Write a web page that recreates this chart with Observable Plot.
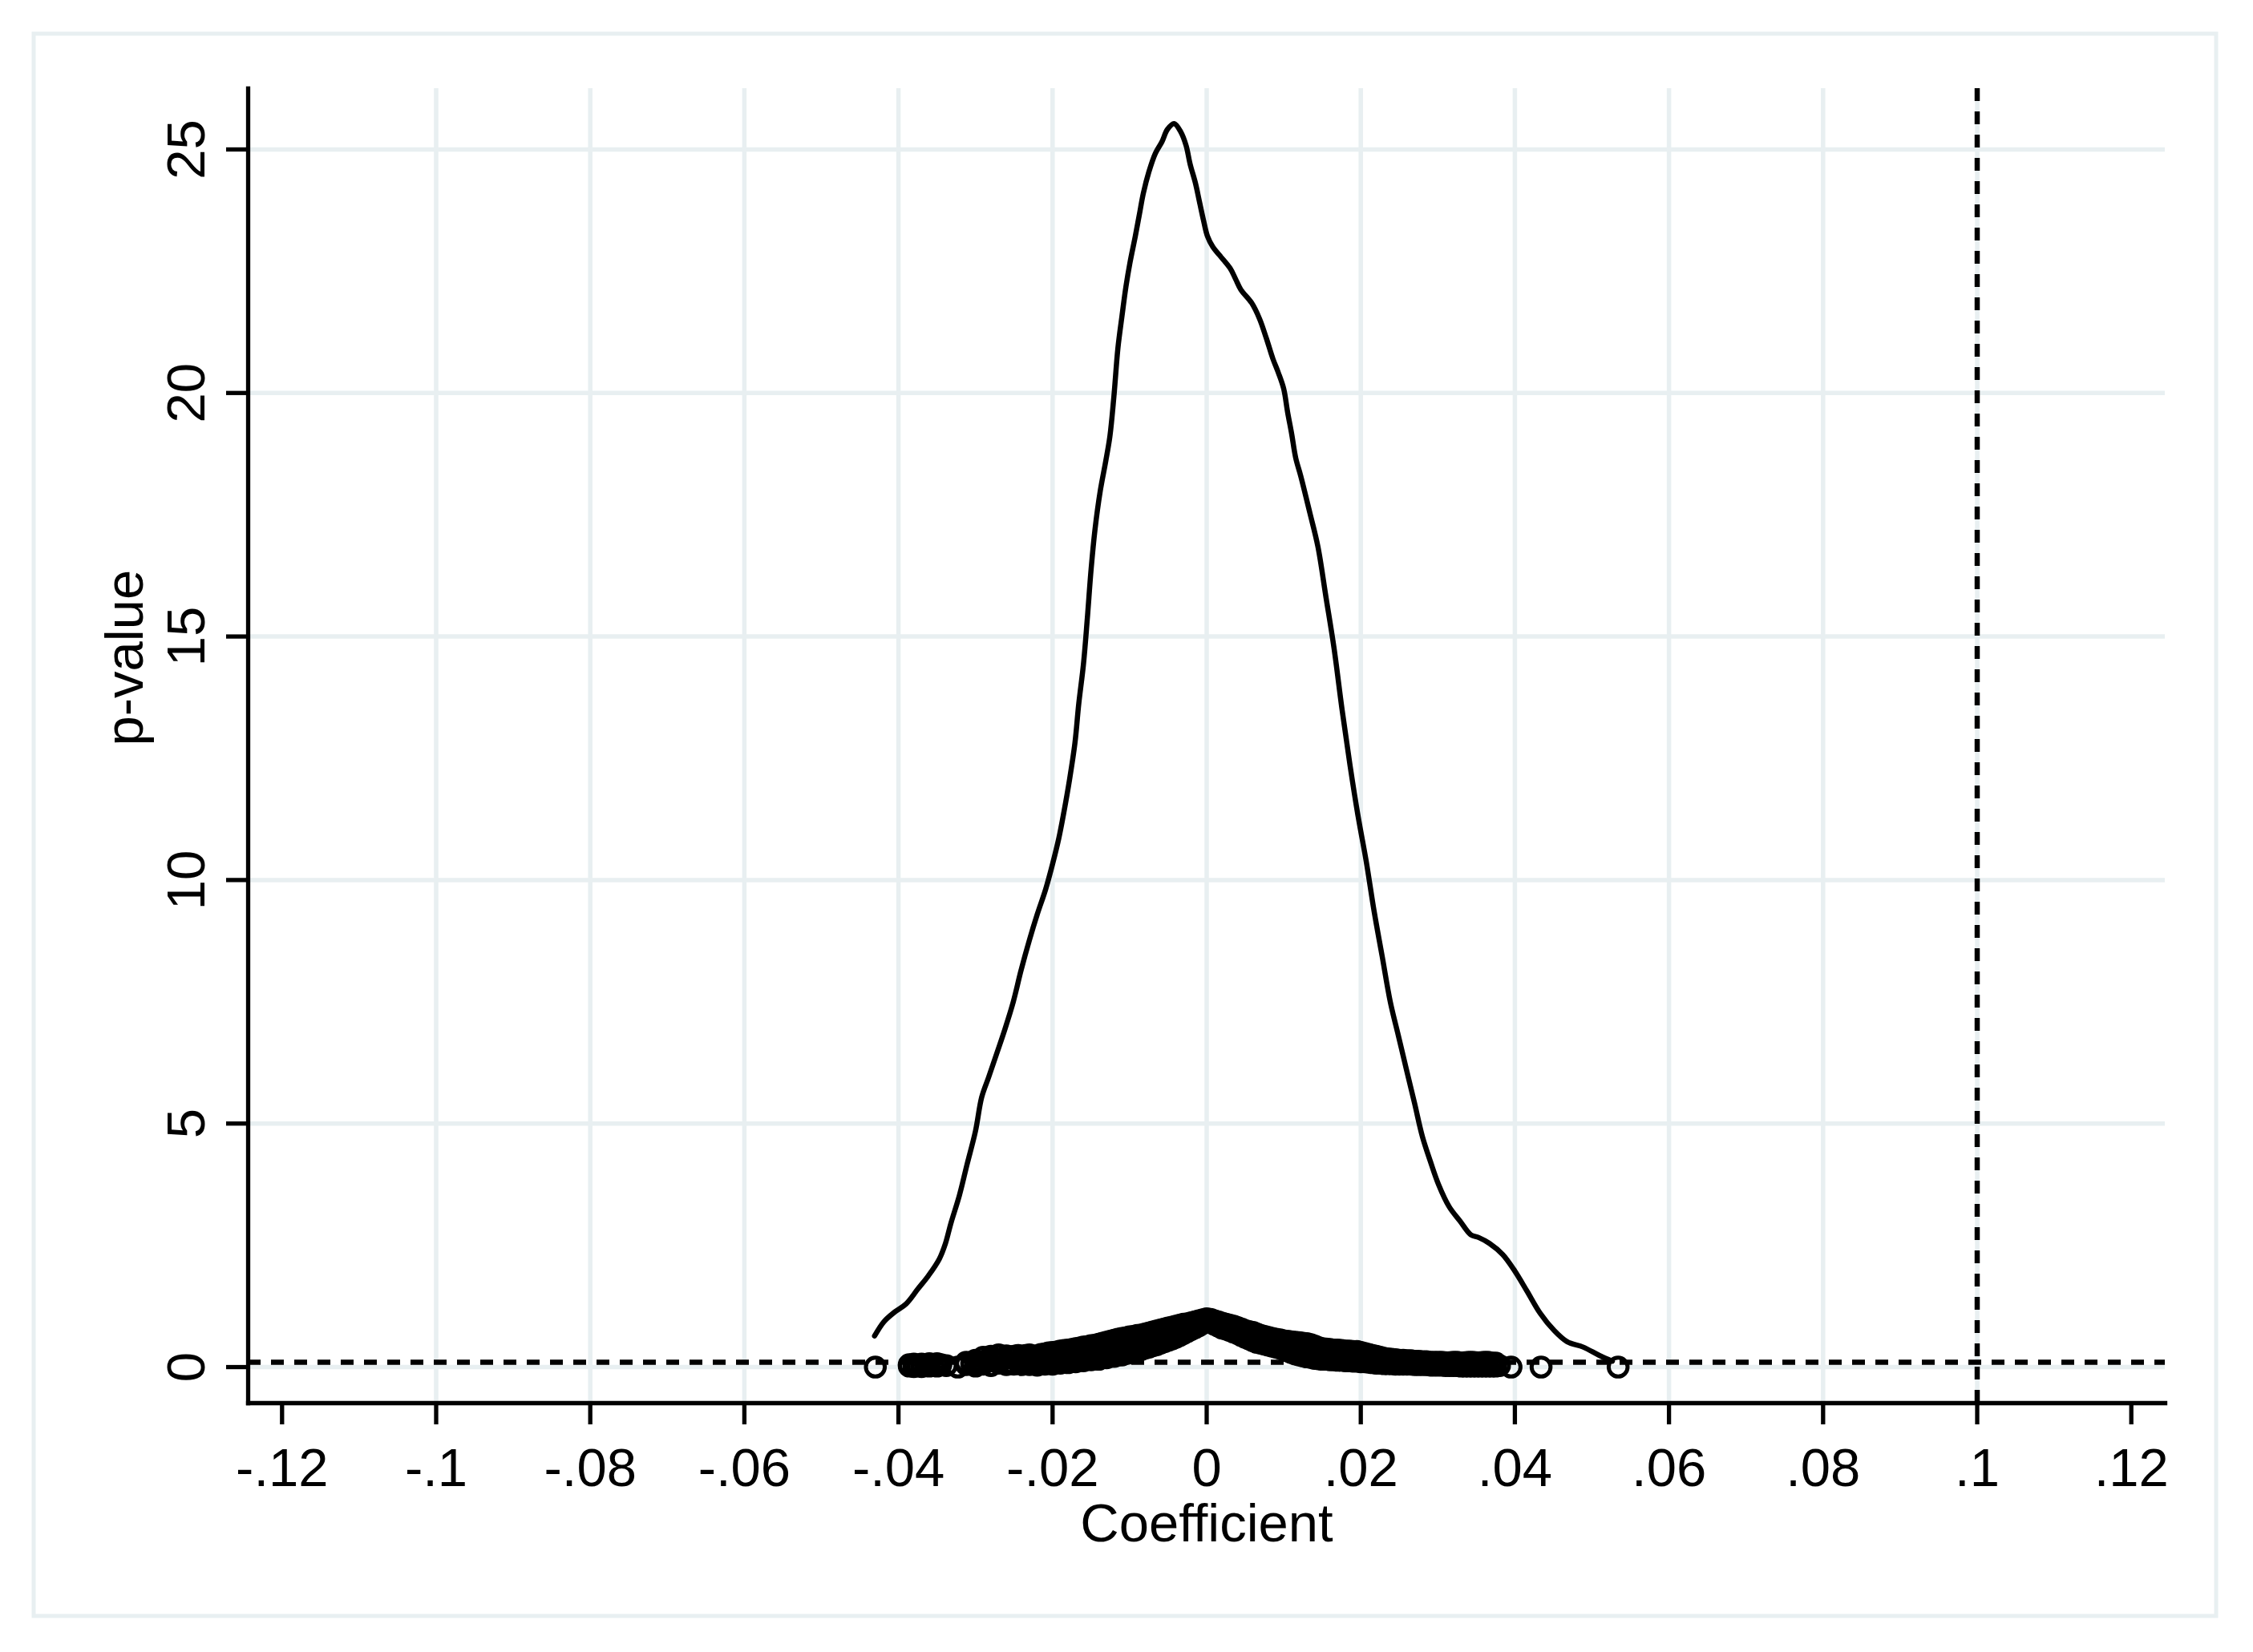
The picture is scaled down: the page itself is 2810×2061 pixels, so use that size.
<!DOCTYPE html>
<html>
<head>
<meta charset="utf-8">
<script src="https://cdn.jsdelivr.net/npm/d3@7"></script>
<script src="https://cdn.jsdelivr.net/npm/@observablehq/plot@0.6"></script>
<style>
  html, body { margin: 0; padding: 0; background: #ffffff; overflow: hidden; }
  #chart { width: 2810px; height: 2061px; }
</style>
</head>
<body>
<div id="chart"></div>
<script>
// ---- data ----
const xTicks = [-0.12, -0.1, -0.08, -0.06, -0.04, -0.02, 0, 0.02, 0.04, 0.06, 0.08, 0.1, 0.12];
const xGrid = [-0.1, -0.08, -0.06, -0.04, -0.02, 0, 0.02, 0.04, 0.06, 0.08, 0.1];
const yTicks = [0, 5, 10, 15, 20, 25];
const xDomain = [-0.1244, 0.1244];
const yDomain = [-0.74, 26.25];
const xTitle = "Coefficient";
const yTitle = "p-value";
const hLineValue = [0.1];   // horizontal dashed reference
const vLineValue = [0.1];   // vertical dashed reference

// density-like curve (coefficient, value)
const curveX = [-0.0431,-0.0419,-0.0405,-0.0390,-0.0375,-0.0361,-0.0347,-0.0339,-0.0332,-0.0321,-0.0311,-0.0300,-0.0292,-0.0283,-0.0272,-0.0262,-0.0251,-0.0241,-0.0230,-0.0220,-0.0209,-0.0200,-0.0192,-0.0185,-0.0178,-0.0171,-0.0166,-0.0160,-0.0155,-0.0150,-0.0145,-0.0138,-0.0131,-0.01256,-0.01204,-0.01152,-0.01100,-0.01048,-0.00996,-0.00926,-0.00874,-0.00822,-0.00752,-0.00666,-0.00580,-0.00510,-0.00423,-0.00336,-0.00267,-0.00215,-0.00146,-0.00094,-0.00042,0.00010,0.00080,0.00166,0.00305,0.00375,0.00444,0.00583,0.00687,0.00773,0.00860,0.00929,0.00999,0.01051,0.01103,0.01155,0.01220,0.01339,0.01443,0.01548,0.01652,0.01757,0.01861,0.01965,0.02070,0.02174,0.02278,0.02383,0.02487,0.02591,0.02696,0.02800,0.02904,0.03009,0.03148,0.03287,0.03426,0.03530,0.03670,0.03843,0.04000,0.04157,0.04330,0.04504,0.04678,0.04887,0.05096,0.05265];
const curveY = [0.64,0.93,1.13,1.30,1.60,1.88,2.22,2.54,2.95,3.52,4.16,4.85,5.54,5.95,6.46,6.93,7.50,8.14,8.77,9.29,9.81,10.33,10.85,11.42,12.06,12.81,13.62,14.42,15.35,16.38,17.19,18.00,18.60,19.11,19.93,20.92,21.57,22.18,22.67,23.22,23.66,24.10,24.53,24.92,25.16,25.41,25.53,25.36,25.08,24.70,24.31,23.93,23.55,23.22,23.00,22.83,22.56,22.34,22.12,21.85,21.52,21.13,20.70,20.42,20.09,19.60,19.16,18.67,18.30,17.54,16.85,15.81,14.77,13.50,12.35,11.31,10.39,9.35,8.43,7.50,6.81,6.12,5.43,4.73,4.22,3.75,3.29,3.00,2.72,2.66,2.54,2.31,1.97,1.56,1.10,0.76,0.52,0.41,0.24,0.12];

// individual estimates: each row is [coefficient, p-value(s) of the estimates at that coefficient]
const estimateColumns = [
  [-0.0430, 0.00],
  [-0.0386, 0.02, 0.05], [-0.0380, 0.01, 0.06], [-0.0375, 0.03], [-0.0370, 0.01, 0.06],
  [-0.0365, 0.04], [-0.0360, 0.02, 0.07], [-0.0355, 0.03], [-0.0350, 0.02, 0.07],
  [-0.0345, 0.05], [-0.0338, 0.03],
  [-0.0323, 0.00],
  [-0.0312, 0.05, 0.10], [-0.0305, 0.07], [-0.0300, 0.02, 0.14], [-0.0295, 0.10],
  [-0.0290, 0.06, 0.20], [-0.0285, 0.12], [-0.0280, 0.03, 0.22], [-0.0275, 0.14],
  [-0.0270, 0.08, 0.25], [-0.0265, 0.15],
  [-0.0260, 0.05, 0.23], [-0.0255, 0.09, 0.21], [-0.0250, 0.06, 0.22], [-0.0245, 0.10, 0.24],
  [-0.0240, 0.05, 0.21], [-0.0235, 0.08, 0.24], [-0.0230, 0.05, 0.25], [-0.0225, 0.09, 0.22],
  [-0.0220, 0.04, 0.23], [-0.0215, 0.08, 0.26], [-0.0210, 0.06, 0.27], [-0.0205, 0.10, 0.29],
  [-0.0200, 0.06, 0.30], [-0.0195, 0.10, 0.31], [-0.0190, 0.08, 0.20, 0.33], [-0.0185, 0.11, 0.34],
  [-0.0180, 0.09, 0.22, 0.35], [-0.0175, 0.12, 0.36], [-0.0170, 0.11, 0.25, 0.38], [-0.0165, 0.14, 0.39],
  [-0.0160, 0.13, 0.27, 0.41], [-0.0155, 0.16, 0.42], [-0.0150, 0.15, 0.30, 0.44], [-0.0145, 0.17, 0.45],
  [-0.0140, 0.16, 0.32, 0.47], [-0.0135, 0.20, 0.49], [-0.0130, 0.19, 0.35, 0.51], [-0.0125, 0.22, 0.53],
  [-0.0120, 0.22, 0.38, 0.55], [-0.0115, 0.25, 0.57], [-0.0110, 0.25, 0.42, 0.59], [-0.0105, 0.28, 0.60],
  [-0.0100, 0.29, 0.45, 0.62], [-0.0095, 0.32, 0.63], [-0.0090, 0.33, 0.49, 0.65], [-0.0085, 0.36, 0.66],
  [-0.0080, 0.39, 0.53, 0.68], [-0.0075, 0.41, 0.70], [-0.0070, 0.44, 0.57, 0.72], [-0.0065, 0.46, 0.74],
  [-0.0060, 0.49, 0.62, 0.76], [-0.0055, 0.52, 0.78], [-0.0050, 0.55, 0.67, 0.80], [-0.0045, 0.58, 0.82],
  [-0.0040, 0.61, 0.72, 0.84], [-0.0035, 0.65, 0.86], [-0.0030, 0.69, 0.78, 0.88], [-0.0025, 0.73, 0.89],
  [-0.0020, 0.77, 0.91], [-0.0015, 0.81, 0.93], [-0.0010, 0.85, 0.95], [-0.0005, 0.90, 0.97],
  [0.0000, 0.94, 0.99], [0.0005, 0.92, 0.98], [0.0010, 0.88, 0.95], [0.0015, 0.84, 0.93],
  [0.0020, 0.80, 0.90], [0.0025, 0.78, 0.88], [0.0030, 0.75, 0.86], [0.0035, 0.72, 0.84],
  [0.0040, 0.69, 0.81], [0.0045, 0.65, 0.78], [0.0050, 0.61, 0.75], [0.0055, 0.58, 0.73],
  [0.0060, 0.54, 0.71], [0.0065, 0.51, 0.68], [0.0070, 0.49, 0.65], [0.0075, 0.47, 0.63],
  [0.0080, 0.45, 0.61], [0.0085, 0.43, 0.59], [0.0090, 0.41, 0.57], [0.0095, 0.39, 0.56],
  [0.0100, 0.36, 0.54], [0.0105, 0.33, 0.53], [0.0110, 0.30, 0.42, 0.52], [0.0115, 0.27, 0.51],
  [0.0120, 0.25, 0.38, 0.50], [0.0125, 0.23, 0.49], [0.0130, 0.21, 0.34, 0.48], [0.0135, 0.20, 0.46],
  [0.0140, 0.18, 0.31, 0.43], [0.0145, 0.17, 0.40], [0.0150, 0.16, 0.38], [0.0155, 0.16, 0.37],
  [0.0160, 0.15, 0.36], [0.0165, 0.15, 0.35], [0.0170, 0.14, 0.35], [0.0175, 0.14, 0.34],
  [0.0180, 0.13, 0.33], [0.0185, 0.13, 0.33], [0.0190, 0.12, 0.32], [0.0195, 0.12, 0.32],
  [0.0200, 0.11, 0.30], [0.0205, 0.11, 0.28], [0.0210, 0.10, 0.26], [0.0215, 0.09, 0.24],
  [0.0220, 0.08, 0.22], [0.0225, 0.08, 0.20], [0.0230, 0.07, 0.18], [0.0235, 0.07, 0.17],
  [0.0240, 0.07, 0.16], [0.0245, 0.06, 0.15], [0.0250, 0.06, 0.14], [0.0255, 0.06, 0.14],
  [0.0260, 0.06, 0.13], [0.0265, 0.06, 0.13], [0.0270, 0.05, 0.12], [0.0275, 0.05, 0.12],
  [0.0280, 0.05, 0.11], [0.0285, 0.05, 0.11], [0.0290, 0.04, 0.10], [0.0295, 0.04, 0.10],
  [0.0300, 0.04, 0.10], [0.0305, 0.04, 0.10], [0.0310, 0.03, 0.09], [0.0315, 0.03, 0.09],
  [0.0320, 0.03, 0.10], [0.0325, 0.03, 0.10], [0.0330, 0.02, 0.08], [0.0335, 0.02, 0.09],
  [0.0340, 0.02, 0.10], [0.0345, 0.02, 0.10], [0.0350, 0.02, 0.09], [0.0355, 0.02, 0.09],
  [0.0360, 0.02, 0.10], [0.0365, 0.02, 0.10], [0.0370, 0.02, 0.08], [0.0375, 0.02, 0.08],
  [0.0380, 0.03],
  [0.0395, 0.00], [0.0434, 0.00], [0.0534, 0.00]
];

// ---- build tables ----
const curve = curveX.map((x, i) => ({x, y: curveY[i]}));
const points = estimateColumns.flatMap(([x, ...ps]) => ps.map(p => ({x, y: p})));
const fmtX = d => d === 0 ? "0" : (d < 0 ? "-" : "") + String(Math.abs(d)).replace(/^0/, "");

const gridColor = "#e8eff1";
const font = "'Liberation Sans', Arial, Helvetica, sans-serif";
const fs = 67;

const chart = Plot.plot({
  width: 2810,
  height: 2061,
  marginLeft: 309,
  marginRight: 110,
  marginTop: 110,
  marginBottom: 311,
  x: {domain: xDomain},
  y: {domain: yDomain},
  style: {fontFamily: font, fontSize: fs + "px", background: "#ffffff", color: "#000"},
  marks: [
    Plot.gridX(xGrid, {stroke: gridColor, strokeOpacity: 1, strokeWidth: 5.5}),
    Plot.gridY(yTicks, {stroke: gridColor, strokeOpacity: 1, strokeWidth: 5.5}),
    Plot.ruleY(hLineValue, {stroke: "#000", strokeWidth: 6.5, strokeDasharray: "16,13"}),
    Plot.ruleX(vLineValue, {stroke: "#000", strokeWidth: 6.5, strokeDasharray: "16,13"}),
    Plot.dot(points, {x: "x", y: "y", r: 11.8, stroke: "#000", strokeWidth: 5, fill: "none"}),
    Plot.line(curve, {x: "x", y: "y", stroke: "#000", strokeWidth: 6.5, curve: "catmull-rom"}),
    Plot.frame({anchor: "left", stroke: "#000", strokeWidth: 5.3}),
    Plot.frame({anchor: "bottom", stroke: "#000", strokeWidth: 5.3}),
    Plot.axisX({ticks: xTicks, tickSize: 27, tickFormat: () => "", label: null, stroke: "#000", strokeWidth: 5.3}),
    Plot.axisY({ticks: yTicks, tickSize: 27, tickFormat: () => "", label: null, stroke: "#000", strokeWidth: 5.3}),
    Plot.text(xTicks, {x: d => d, frameAnchor: "bottom", dy: 103, lineAnchor: "bottom", text: fmtX, fontSize: fs, fill: "#000"}),
    Plot.text(yTicks, {y: d => d, frameAnchor: "left", dx: -55, rotate: -90, lineAnchor: "bottom", textAnchor: "middle", text: d => String(d), fontSize: fs, fill: "#000"}),
    Plot.text([xTitle], {frameAnchor: "bottom", dy: 172, lineAnchor: "bottom", text: d => d, fontSize: fs, fill: "#000"}),
    Plot.text([yTitle], {frameAnchor: "left", dx: -132, rotate: -90, lineAnchor: "bottom", text: d => d, fontSize: fs, fill: "#000"})
  ]
});

document.getElementById("chart").appendChild(chart);

// outer graph-region border (decorative)
d3.select(chart).insert("rect", ":first-child")
  .attr("x", 42).attr("y", 42)
  .attr("width", 2722).attr("height", 1974)
  .attr("fill", "none")
  .attr("stroke", gridColor)
  .attr("stroke-width", 5);
</script>
</body>
</html>
